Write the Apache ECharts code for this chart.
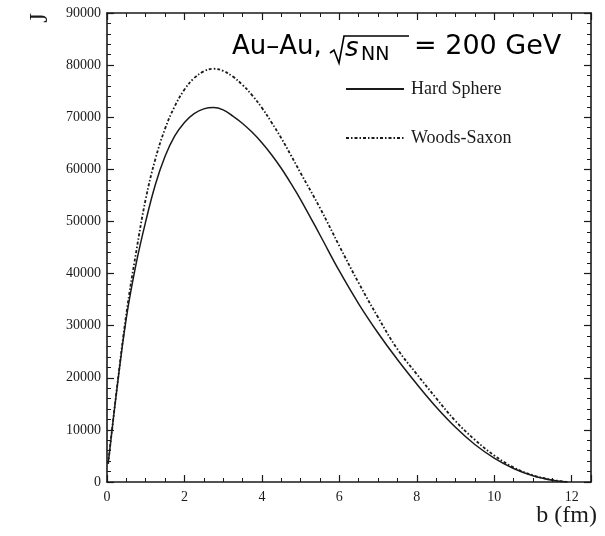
<!DOCTYPE html>
<html><head><meta charset="utf-8">
<script src="https://cdn.jsdelivr.net/npm/echarts@6/dist/echarts.min.js"></script>
<style>html,body{margin:0;padding:0;background:#fff}#c{width:605px;height:536px}</style>
</head><body><div id="c"></div>
<script>
const bVals = [0.03, 0.25, 0.5, 0.75, 1.0, 1.25, 1.5, 1.75, 2.0, 2.25, 2.5, 2.75, 3.0, 3.25, 3.5, 3.75, 4.0, 4.25, 4.5, 4.75, 5.0, 5.5, 6.0, 6.5, 7.0, 7.5, 8.0, 8.5, 9.0, 9.5, 10.0, 10.5, 11.0, 11.5, 11.9];
const hardSphere = [3500, 17500, 31500, 41800, 50000, 57100, 62500, 66400, 69000, 70700, 71600, 71850, 71400, 70200, 68800, 67100, 65100, 62800, 60200, 57300, 54200, 47400, 40500, 34200, 28600, 23500, 18800, 14400, 10500, 7200, 4600, 2600, 1200, 350, 0];
const woodsSaxon = [3500, 17600, 32300, 44000, 54300, 62000, 67800, 72100, 75300, 77500, 78800, 79300, 78900, 77800, 76200, 74200, 71800, 69000, 66000, 62700, 59300, 52600, 45300, 38200, 31600, 25500, 20700, 16100, 11700, 8100, 5100, 2800, 1300, 400, 0];
const seriesNames = ['Hard Sphere', 'Woods-Saxon'];
const xTicks = {min: 0, max: 12.5, interval: 2};
const yTicks = {min: 0, max: 90000, interval: 10000};

const serif = '"Liberation Serif", "Times New Roman", serif';
const ink = '#1a1a1a';
const pairs = arr => bVals.map((b, i) => [b, arr[i]]);

const chart = echarts.init(document.getElementById('c'), null, {renderer: 'canvas'});
const axisBase = {
  type: 'value',
  axisLine: {show: true, onZero: false, lineStyle: {color: ink, width: 1.6}},
  axisTick: {show: true, inside: true, length: 7, lineStyle: {color: ink, width: 1.2}},
  minorTick: {show: true, length: 4, lineStyle: {color: ink, width: 1}},
  splitLine: {show: false},
  axisLabel: {color: ink, fontFamily: serif, fontSize: 14}
};
chart.setOption({
  backgroundColor: '#fff',
  animation: false,
  grid: {left: 107, right: 14, top: 13, bottom: 54},
  xAxis: [
    Object.assign({}, axisBase, {position: 'bottom', min: xTicks.min, max: xTicks.max, interval: xTicks.interval,
      minorTick: Object.assign({}, axisBase.minorTick, {splitNumber: 4}),
      axisLabel: Object.assign({}, axisBase.axisLabel, {margin: 8, showMaxLabel: false}),
      name: 'b (fm)', nameLocation: 'end', nameGap: 6,
      nameTextStyle: {fontFamily: serif, fontSize: 24, color: ink, align: 'right', verticalAlign: 'top', padding: [22, 0, 0, 0]}}),
    Object.assign({}, axisBase, {position: 'top', min: xTicks.min, max: xTicks.max, interval: xTicks.interval,
      minorTick: Object.assign({}, axisBase.minorTick, {splitNumber: 4}),
      axisLabel: {show: false}})
  ],
  yAxis: [
    Object.assign({}, axisBase, {position: 'left', min: yTicks.min, max: yTicks.max, interval: yTicks.interval,
      minorTick: Object.assign({}, axisBase.minorTick, {splitNumber: 5}),
      axisLabel: Object.assign({}, axisBase.axisLabel, {margin: 6, formatter: v => String(v)})}),
    Object.assign({}, axisBase, {position: 'right', min: yTicks.min, max: yTicks.max, interval: yTicks.interval,
      minorTick: Object.assign({}, axisBase.minorTick, {splitNumber: 5}),
      axisLabel: {show: false}})
  ],
  legend: {
    left: 340, top: 75, orient: 'vertical', itemWidth: 58, itemHeight: 14, itemGap: 31,
    itemStyle: {opacity: 0},
    textStyle: {fontFamily: serif, fontSize: 18, color: ink, padding: [0, 0, 0, 2]},
    data: seriesNames
  },
  series: [
    {name: seriesNames[0], type: 'line', data: pairs(hardSphere), showSymbol: false, symbol: 'none', smooth: 0.4,
      lineStyle: {color: ink, width: 1.5}, itemStyle: {color: ink}},
    {name: seriesNames[1], type: 'line', data: pairs(woodsSaxon), showSymbol: false, symbol: 'none', smooth: 0.4,
      lineStyle: {color: ink, width: 1.8, type: [3, 2, 1.5, 2]}, itemStyle: {color: ink}}
  ],
  graphic: [
    {type: 'text', x: 40, y: 18, rotation: Math.PI / 2,
      style: {text: 'J', font: '25px ' + serif, fill: ink, align: 'center', verticalAlign: 'middle'}},
    {type: 'text', x: 232, y: 47,
      style: {text: 'Au–Au,', font: '26px "DejaVu Sans"', fill: '#000', align: 'left', verticalAlign: 'middle'}},
    {type: 'polyline', shape: {points: [[330, 53], [334, 50], [339, 63], [344, 36], [409, 36]]},
      style: {stroke: '#000', lineWidth: 1.6, fill: null}},
    {type: 'text', x: 345, y: 49,
      style: {text: 's', font: 'italic 26px "DejaVu Sans"', fill: '#000', align: 'left', verticalAlign: 'middle'}},
    {type: 'text', x: 361, y: 55,
      style: {text: 'NN', font: '19px "DejaVu Sans"', fill: '#000', align: 'left', verticalAlign: 'middle'}},
    {type: 'text', x: 414, y: 47,
      style: {text: '= 200 GeV', font: '27px "DejaVu Sans"', fill: '#000', align: 'left', verticalAlign: 'middle'}}
  ]
});
</script></body></html>
